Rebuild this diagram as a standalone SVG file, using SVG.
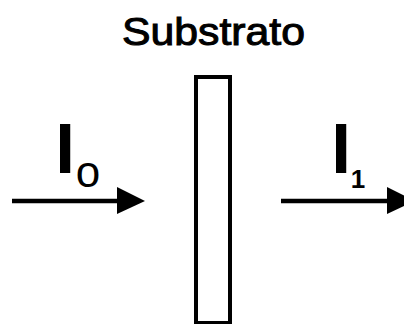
<svg xmlns="http://www.w3.org/2000/svg" width="404" height="324" viewBox="0 0 404 324">
<style>
.t{font-family:"Liberation Sans",Arial,sans-serif;fill:#000}
.ln{stroke:#000;stroke-width:4.5;fill:none}
.hd{fill:#000}
</style>
<rect width="404" height="324" fill="#fff"/>
<g id="title"><text class="t" x="122" y="45" font-size="38" stroke="#000" stroke-width="1" textLength="183" lengthAdjust="spacingAndGlyphs">Substrato</text></g>
<g id="substrate"><rect x="196" y="77" width="34" height="246" fill="none" stroke="#000" stroke-width="4"/></g>
<g id="I0"><text class="t" x="65" y="173" font-size="71" font-weight="bold" text-anchor="middle">I</text><text class="t" x="88" y="187" font-size="44" text-anchor="middle">o</text></g>
<g id="I1"><text class="t" x="341" y="173" font-size="71" font-weight="bold" text-anchor="middle">I</text><text class="t" x="358" y="188" font-size="26" font-weight="bold" text-anchor="middle">1</text></g>
<g id="connectors">
<line class="ln" x1="12" y1="201" x2="120" y2="201"/><polygon class="hd" points="117,187 145,201 117,214"/>
<line class="ln" x1="281" y1="201" x2="390" y2="201"/><polygon class="hd" points="387,187 415,201 387,214"/>
</g>
</svg>
